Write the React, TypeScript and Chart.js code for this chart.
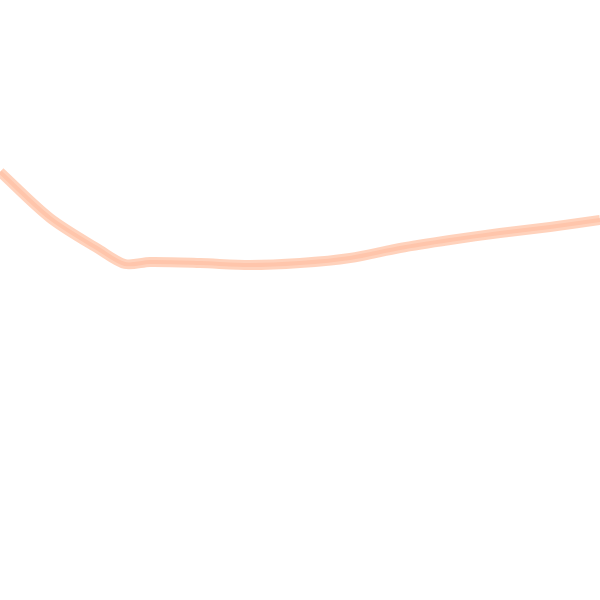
import React, { useEffect, useRef } from "react";
import Chart from "chart.js/auto";

const xPositions = [0, 50, 100, 125, 150, 200, 250, 300, 350, 400, 450, 500, 550, 600];
const values = [428, 382, 350, 336, 338, 337, 335, 337, 342, 352, 360, 367, 373, 380];

export default function App() {
  const ref = useRef<HTMLCanvasElement | null>(null);
  useEffect(() => {
    document.body.style.margin = "0";
    const points = xPositions.map((x, i) => ({ x, y: values[i] }));
    const chart = new Chart(ref.current!, {
      type: "line",
      data: {
        datasets: [
          {
            data: points,
            borderColor: "rgba(255,195,165,0.75)",
            borderWidth: 10,
            pointRadius: 0,
            tension: 0.3,
            fill: false,
          },
          {
            data: points,
            borderColor: "rgba(255,170,140,0.6)",
            borderWidth: 4,
            pointRadius: 0,
            tension: 0.3,
            fill: false,
          },
        ],
      },
      options: {
        animation: false,
        responsive: false,
        devicePixelRatio: 1,
        layout: { padding: 0 },
        plugins: { legend: { display: false }, tooltip: { enabled: false } },
        scales: {
          x: { type: "linear", min: 0, max: 600, display: false },
          y: { min: 0, max: 600, display: false },
        },
      },
    });
    return () => chart.destroy();
  }, []);
  return (
    <div style={{ position: "fixed", left: 0, top: 0, width: 600, height: 600 }}>
      <canvas ref={ref} width={600} height={600} />
    </div>
  );
}
